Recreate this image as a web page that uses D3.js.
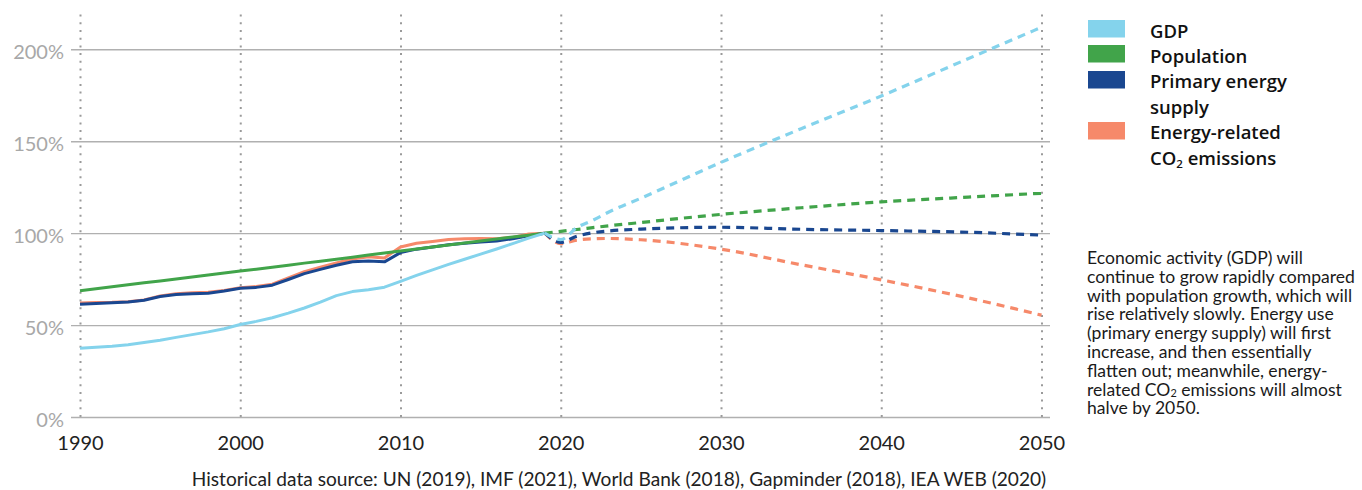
<!DOCTYPE html>
<html><head><meta charset="utf-8">
<script src="https://cdn.jsdelivr.net/npm/d3@7"></script>
<style>body{margin:0;background:#fff} svg{display:block;font-family:Lato,"Open Sans",sans-serif}</style>
</head><body><svg id="c" width="1362" height="490"></svg>
<script>
// ---- data (% of 2019 level) ----
const histYears=[1990,1991,1992,1993,1994,1995,1996,1997,1998,1999,2000,2001,2002,2003,2004,2005,2006,2007,2008,2009,2010,2011,2012,2013,2014,2015,2016,2017,2018,2019];
const gdpHist=[37.4,37.9,38.5,39.3,40.5,41.8,43.3,44.8,46.3,48.0,50.3,52.0,54.0,56.5,59.3,62.5,66.0,68.2,69.2,70.6,73.8,77.0,80.0,83.0,85.8,88.6,91.4,94.3,97.3,100];
const popHist=[68.7,69.8,70.9,71.9,73.0,74.0,75.1,76.2,77.2,78.3,79.4,80.4,81.5,82.6,83.7,84.7,85.8,86.9,88.1,89.2,90.3,91.4,92.5,93.6,94.6,95.7,96.8,97.9,98.9,100];
const energyHist=[61.3,61.8,62.2,62.5,63.5,65.5,66.6,67.0,67.3,68.5,70.0,70.5,71.7,74.8,78.0,80.3,82.5,84.4,84.9,84.4,89.4,91.3,92.5,93.7,94.5,95.2,95.7,97.0,98.6,100];
const co2Hist=[62.0,62.3,62.4,62.7,63.7,65.8,67.0,67.6,67.8,68.8,70.3,71.0,72.2,75.6,79.0,81.5,83.8,86.0,87.2,86.5,92.5,94.5,95.5,96.6,97.0,97.1,97.0,97.7,99.5,100];
const projYears=[2019,2020,2021,2022,2023,2025,2030,2035,2040,2045,2050];
const gdpProj=[100,96.5,103,107,111.5,119,138.5,156.8,174.6,193.3,212];
const popProj=[100,101,102,103,104,105.8,110.2,113.8,117.0,119.4,121.7];
const energyProj=[100,95,98.3,100.2,101.2,102.2,103.2,102.1,101.4,100.6,98.9];
const co2Proj=[100,94.3,96.2,96.9,97.1,96.4,91.3,82.8,74.6,65.6,55.4];
const yTicks=[0,50,100,150,200];
const xTicks=[1990,2000,2010,2020,2030,2040,2050];
const legendLabels=[["GDP"],["Population"],["Primary energy","supply"],["Energy-related","CO|2| emissions"]];
const colors=["#84d3ec","#41a44a","#1a4790","#f6896a"];
const noteLines=["Economic activity (GDP) will","continue to grow rapidly compared","with population growth, which will","rise relatively slowly. Energy use","(primary energy supply) will first","increase, and then essentially","flatten out; meanwhile, energy-","related CO|2| emissions will almost","halve by 2050."];
const sourceText="Historical data source: UN (2019), IMF (2021), World Bank (2018), Gapminder (2018), IEA WEB (2020)";

// ---- chart ----
const svg=d3.select("#c");
const x=d3.scaleLinear().domain([1990,2050]).range([80,1041.5]);
const y=d3.scaleLinear().domain([0,200]).range([417,49.3]);

// vertical dotted grid + x labels
const xa=svg.append("g").attr("transform","translate(0,417)")
  .call(d3.axisBottom(x).tickValues(xTicks).tickFormat(d3.format("d")).tickSize(-405).tickPadding(19));
xa.select(".domain").remove();
xa.selectAll(".tick line").attr("stroke","#9a9a9a").attr("stroke-width",2).attr("stroke-dasharray","2,5.7");
xa.selectAll(".tick text").attr("font-size",20).attr("fill","#222").attr("font-family","Lato");

// horizontal grid + y labels
const ya=svg.append("g").attr("transform","translate(71,0)")
  .call(d3.axisLeft(y).tickValues(yTicks).tickFormat(d=>d+"%").tickSize(-(1050-71)).tickPadding(7));
ya.select(".domain").remove();
ya.selectAll(".tick line").attr("stroke","#b0b0b0").attr("stroke-width",1.4);
ya.selectAll(".tick text").attr("font-size",20).attr("fill","#a8a8a8").attr("font-family","Lato").attr("dy","0.45em");

const series=[
  {h:co2Hist,p:co2Proj,c:colors[3]},
  {h:energyHist,p:energyProj,c:colors[2]},
  {h:popHist,p:popProj,c:colors[1]},
  {h:gdpHist,p:gdpProj,c:colors[0]}
];
const lineH=d3.line().x((d,i)=>x(histYears[i])).y(d=>y(d));
const lineP=d3.line().x((d,i)=>x(projYears[i])).y(d=>y(d)).curve(d3.curveMonotoneX);
const g=svg.append("g");
series.forEach(s=>{
  g.append("path").attr("d",lineP(s.p)).attr("fill","none").attr("stroke",s.c).attr("stroke-width",3.2).attr("stroke-dasharray","8,6");
});
series.forEach(s=>{
  g.append("path").attr("d",lineH(s.h)).attr("fill","none").attr("stroke",s.c).attr("stroke-width",3).attr("stroke-linejoin","round");
});

// helper for text with |sub| markers
function richText(sel,str,fs,sh){
  const parts=str.split("|");
  parts.forEach((p,i)=>{
    if(i%2===1){
      sel.append("tspan").attr("font-size",fs*0.62).attr("dy",fs*sh).text(p);
    } else {
      const t=sel.append("tspan").text(p);
      if(i>0) t.attr("dy",-fs*sh);
    }
  });
}

// legend
const lg=svg.append("g");
const swY=[20,45,71,122];
const txtY=[[38],[63],[88,114],[139,165]];
legendLabels.forEach((lab,i)=>{
  lg.append("rect").attr("x",1088).attr("y",swY[i]).attr("width",37).attr("height",17.5).attr("fill",colors[i]);
  lab.forEach((ln,j)=>{
    const t=lg.append("text").attr("x",1150).attr("y",txtY[i][j]).attr("font-size",18.5).attr("font-weight",600)
      .attr("font-family","'Open Sans',Lato,sans-serif").attr("fill","#111");
    richText(t,ln,18.5,0.14);
  });
});

// note
const ng=svg.append("g").attr("font-family","Lato,sans-serif");
const probe=ng.append("text").attr("font-size",15).text(noteLines[1]);
const nfs=15*268/probe.node().getComputedTextLength();
probe.remove();
noteLines.forEach((ln,i)=>{
  const t=ng.append("text").attr("x",1087).attr("y",264+i*18.8).attr("font-size",nfs).attr("fill","#1a1a1a");
  richText(t,ln,nfs,0.1);
});

// source
const st=svg.append("text").attr("x",619).attr("y",486).attr("text-anchor","middle").attr("font-size",17).attr("fill","#222").text(sourceText);
const sw=st.node().getComputedTextLength();
st.attr("font-size",17*855/sw);
</script></body></html>
